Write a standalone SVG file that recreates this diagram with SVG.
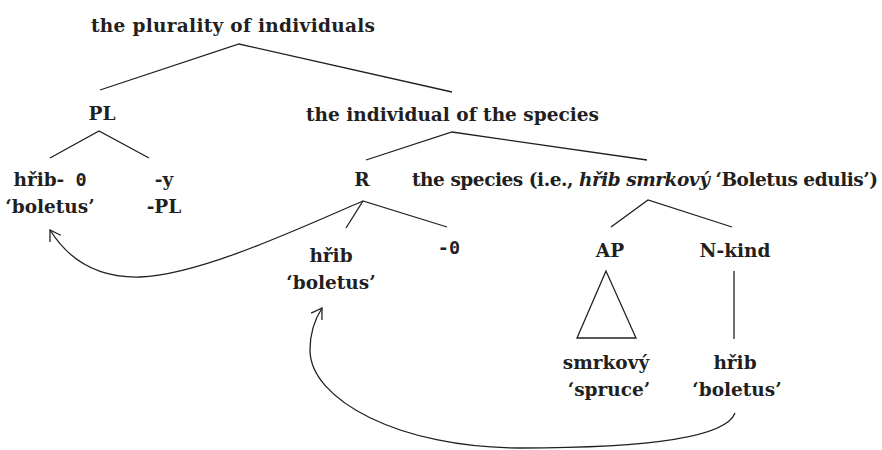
<svg xmlns="http://www.w3.org/2000/svg" width="882" height="450" viewBox="0 0 882 450">
<defs>
<style>
text{font-family:"DejaVu Serif","Liberation Serif",serif;font-weight:bold;font-size:18.5px;fill:#231f20;text-anchor:middle}
.m{font-family:"DejaVu Sans Mono","Liberation Mono",monospace;font-weight:bold}
.i{font-style:italic}
.ln{stroke:#231f20;stroke-width:1.3;fill:none}
</style>
<marker id="ah" markerUnits="userSpaceOnUse" viewBox="-13 -8 15 16" refX="0" refY="0" markerWidth="15" markerHeight="16" orient="auto" overflow="visible">
<path d="M-10.2,-6.4 L0,0 L-10.2,6.4" fill="none" stroke="#231f20" stroke-width="1.3"/>
</marker>
</defs>
<g id="n-plurality"><text x="233" y="32" textLength="284">the plurality of individuals</text></g>
<g id="n-pl"><text x="102" y="120">PL</text></g>
<g id="n-individual"><text x="452.5" y="121" textLength="293">the individual of the species</text></g>
<g id="n-hrib0"><text x="50" y="186">hřib-<tspan class="m"> 0</tspan></text><text x="50" y="213">‘boletus’</text></g>
<g id="n-y"><text x="164" y="186">-y</text><text x="164" y="213">-PL</text></g>
<g id="n-r"><text x="362" y="186">R</text></g>
<g id="n-species"><text x="645" y="186" textLength="466">the species (i.e., <tspan class="i">hřib smrkový</tspan> ‘Boletus edulis’)</text></g>
<g id="n-hrib"><text x="331" y="262">hřib</text><text x="331" y="289">‘boletus’</text></g>
<g id="n-zero"><text class="m" x="449" y="254">-0</text></g>
<g id="n-ap"><text x="610" y="257">AP</text></g>
<g id="n-nkind"><text x="735" y="257">N-kind</text></g>
<g id="n-smrkovy"><text x="606" y="369">smrkový</text><text x="609" y="396">‘spruce’</text></g>
<g id="n-hrib2"><text x="735" y="369">hřib</text><text x="737" y="396">‘boletus’</text></g>
<g id="connectors">
<path class="ln" d="M100,90 L239,44 L452,92"/>
<path class="ln" d="M50,158 L99,131 L149,158"/>
<path class="ln" d="M366,160 L452,132 L647,160"/>
<path class="ln" d="M346,228 L363,201 L447,227"/>
<path class="ln" d="M611,227 L648,200 L732,227"/>
<path class="ln" d="M606,271 L577,338 L636,338 Z"/>
<path class="ln" d="M734,271 L734,339"/>
<path class="ln" d="M363,201 C300,228 200,275 140,277 C100,278 70,262 50,230" marker-end="url(#ah)"/>
<path class="ln" d="M735,413 C725,440 630,448 520,448 C400,448 310,400 310,350 C310,332 315,319 322,308" marker-end="url(#ah)"/>
</g>
</svg>
